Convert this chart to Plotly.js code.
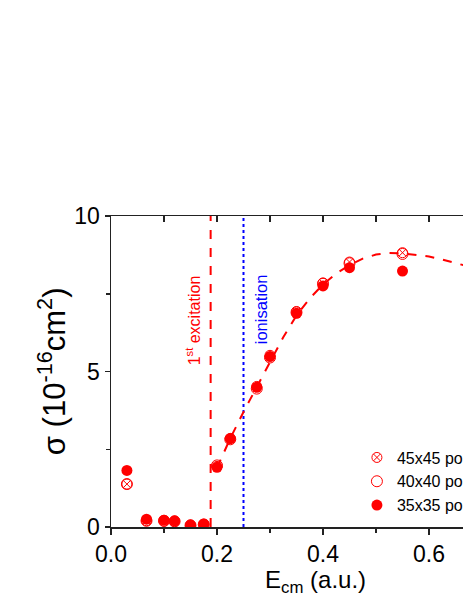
<!DOCTYPE html>
<html>
<head>
<meta charset="utf-8">
<script src="https://cdn.plot.ly/plotly-3.0.1.min.js"></script>
<style>
  body { margin: 0; overflow: hidden; background: #fff; }
  #chart { width: 580px; height: 599px; }
</style>
</head>
<body>
<div id="chart"></div>
<script>
// collision energies (a.u.)
var energy = [0.03, 0.067, 0.1, 0.12, 0.15, 0.175, 0.2, 0.225, 0.275, 0.3, 0.35, 0.4, 0.45, 0.55];
// cross sections for each grid size (10^-16 cm^2)
var sigma45 = [1.38, 0.2, 0.18, 0.17, 0.05, 0.08, 1.95, 2.85, 4.52, 5.52, 6.93, 7.85, 8.52, 8.82];
var sigma40 = [1.38, 0.2, 0.2, 0.18, 0.05, 0.08, 1.98, 2.82, 4.45, 5.45, 6.9, 7.82, 8.48, 8.78];
var sigma35 = [1.82, 0.25, 0.22, 0.2, 0.07, 0.1, 1.92, 2.84, 4.49, 5.48, 6.87, 7.75, 8.34, 8.23];

// dashed guide curve
var fitE = [0.2, 0.225, 0.25, 0.275, 0.3, 0.325, 0.35, 0.375, 0.4, 0.425, 0.45, 0.475, 0.5, 0.525, 0.55, 0.575, 0.6, 0.625, 0.65, 0.675, 0.7, 0.75, 0.8];
var fitSigma = [1.9, 2.85, 3.7, 4.5, 5.35, 6.1, 6.8, 7.35, 7.8, 8.15, 8.42, 8.63, 8.76, 8.81, 8.8, 8.76, 8.7, 8.6, 8.48, 8.37, 8.26, 8.03, 7.8];

// thresholds
var excitationE = 0.188;
var ionisationE = 0.25;
var yRange = [0, 10];

var labels = ['45x45 points', '40x40 points', '35x35 points'];

var red = 'rgb(255,0,0)';
var blue = 'rgb(0,0,255)';

var data = [
    {
        x: [excitationE, excitationE], y: yRange,
        mode: 'lines', showlegend: false, hoverinfo: 'none',
        line: {color: red, width: 2, dash: 'dash'}
    },
    {
        x: [ionisationE, ionisationE], y: yRange,
        mode: 'lines', showlegend: false, hoverinfo: 'none',
        line: {color: blue, width: 2, dash: 'dot'}
    },
    {
        x: fitE, y: fitSigma,
        mode: 'lines', showlegend: false, hoverinfo: 'none',
        line: {color: red, width: 2, dash: 'dash'}
    },
    {
        x: energy, y: sigma45, name: labels[0],
        mode: 'markers',
        marker: {symbol: 'circle-x-open', size: 10, color: red, line: {width: 1, color: red}}
    },
    {
        x: energy, y: sigma40, name: labels[1],
        mode: 'markers',
        marker: {symbol: 'circle-open', size: 11, color: red, line: {width: 1, color: red}}
    },
    {
        x: energy, y: sigma35, name: labels[2],
        mode: 'markers',
        marker: {symbol: 'circle', size: 11, color: red}
    }
];

var fam = 'Liberation Sans, Arial, sans-serif';
var tickFont = {family: fam, size: 23, color: '#000'};

var layout = {
    width: 580,
    height: 599,
    margin: {l: 111, r: 45, t: 216, b: 72},
    paper_bgcolor: '#fff',
    plot_bgcolor: '#fff',
    font: {family: fam, color: '#000'},
    xaxis: {
        range: [0, 0.8],
        tickvals: [0, 0.2, 0.4, 0.6, 0.8],
        ticktext: ['0.0', '0.2', '0.4', '0.6', '0.8'],
        ticks: 'outside', ticklen: 6, tickwidth: 1.5, tickcolor: '#222',
        minor: {tickvals: [0.1, 0.3, 0.5, 0.7], ticks: 'outside', ticklen: 4, tickwidth: 1.5, tickcolor: '#222'},
        showline: true, linecolor: '#222', linewidth: 1.5,
        showgrid: false, zeroline: false,
        tickfont: tickFont
    },
    xaxis2: {
        overlaying: 'x', matches: 'x', side: 'top',
        range: [0, 0.8],
        tickvals: [0, 0.1, 0.2, 0.3, 0.4, 0.5, 0.6, 0.7, 0.8],
        ticks: 'inside', ticklen: 6, tickwidth: 1.5, tickcolor: '#222',
        showticklabels: false,
        showline: true, linecolor: '#222', linewidth: 1.5,
        showgrid: false, zeroline: false
    },
    yaxis: {
        range: yRange,
        tickvals: [0, 5, 10],
        ticks: 'outside', ticklen: 5, tickwidth: 1.5, tickcolor: '#222',
        minor: {tickvals: [2.5, 7.5], ticks: 'outside', ticklen: 4, tickwidth: 1.5, tickcolor: '#222'},
        showline: true, linecolor: '#222', linewidth: 1.5, mirror: true,
        showgrid: false, zeroline: false,
        tickfont: tickFont
    },
    legend: {
        x: 0.58, y: 0.278, xanchor: 'left', yanchor: 'top',
        bgcolor: 'rgba(0,0,0,0)',
        font: {family: fam, size: 16, color: '#000'},
        tracegroupgap: 0
    },
    annotations: [
        {
            x: 0.155, y: 6.65, xref: 'x', yref: 'y',
            text: '1<sup>st</sup> excitation', textangle: -90, showarrow: false,
            font: {size: 16, color: red}
        },
        {
            x: 0.283, y: 7.0, xref: 'x', yref: 'y',
            text: 'ionisation', textangle: -90, showarrow: false,
            font: {size: 16.5, color: blue}
        },
        {
            x: -0.14, y: 0.5, xref: 'paper', yref: 'paper', xanchor: 'center', yanchor: 'middle',
            text: '\u03c3 (10<sup>-16</sup>cm<sup>2</sup>)', textangle: -90, showarrow: false,
            font: {size: 31, color: '#000'}
        },
        {
            x: 0.483, y: -0.175, xref: 'paper', yref: 'paper', xanchor: 'center', yanchor: 'middle',
            text: 'E<sub>cm</sub> (a.u.)', showarrow: false,
            font: {size: 24, color: '#000'}
        }
    ]
};

// empty trace so the top axis is drawn
data.push({x: [], y: [], xaxis: 'x2', showlegend: false, hoverinfo: 'none'});

Plotly.newPlot('chart', data, layout, {displayModeBar: false, staticPlot: true});
</script>
</body>
</html>
